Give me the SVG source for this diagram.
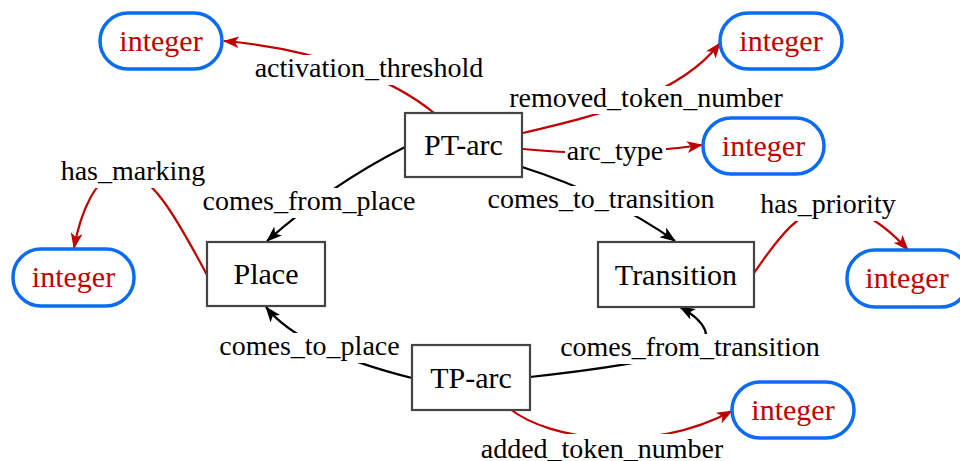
<svg xmlns="http://www.w3.org/2000/svg" width="960" height="461" viewBox="0 0 960 461">
<defs>
<marker id="ab" markerUnits="userSpaceOnUse" markerWidth="16" markerHeight="12" refX="15" refY="6" orient="auto">
<path d="M0,0 L16,6 L0,12 L4,6 z" fill="#000"/>
</marker>
<marker id="ar" markerUnits="userSpaceOnUse" markerWidth="16" markerHeight="12" refX="15" refY="6" orient="auto">
<path d="M0,0 L16,6 L0,12 L4,6 z" fill="#c00000"/>
</marker>
<style>
.box{fill:#fff;stroke:#444;stroke-width:2.2}
.pill{fill:#fff;stroke:#0a6cf5;stroke-width:3.5}
text{font-family:'Liberation Serif',Tinos,'Times New Roman','DejaVu Serif','Noto Serif',serif}
.nt{font-size:30px;text-anchor:middle;fill:#000}
.it{font-size:30px;text-anchor:middle;fill:#c00000}
.lb{font-size:28px;text-anchor:middle;fill:#000}
.eb{fill:none;stroke:#000;stroke-width:2.2}
.er{fill:none;stroke:#c00000;stroke-width:2.2}
.bg{fill:#fff}
</style>
</defs>
<rect width="960" height="461" fill="#fff"/>
<g id="connectors">
<path class="eb" d="M405,147 Q330,185 267,241" marker-end="url(#ab)"/>
<path class="eb" d="M522,167 Q610,195 675,241" marker-end="url(#ab)"/>
<path class="eb" d="M412,378 Q300,350 266,307" marker-end="url(#ab)"/>
<path class="eb" d="M530,377 C630,366 715,352 705,330 Q700,318 680,307" marker-end="url(#ab)"/>
<path class="er" d="M434,113 C400,85 330,50 224,41" marker-end="url(#ar)"/>
<path class="er" d="M523,133 C600,115 680,95 720,43" marker-end="url(#ar)"/>
<path class="er" d="M523,149 Q610,158 702,145" marker-end="url(#ar)"/>
<path class="er" d="M207,275 C175,215 150,170 120,172 C95,175 80,215 74,248" marker-end="url(#ar)"/>
<path class="er" d="M754,273 C780,235 800,210 830,205 C860,205 890,230 908,250" marker-end="url(#ar)"/>
<path class="er" d="M510,409 C550,440 650,455 732,411" marker-end="url(#ar)"/>
</g>
<g id="labels">
<rect class="bg" x="251" y="55" width="236" height="30"/>
<text class="lb" x="369" y="77" font-family="'Liberation Serif',Tinos,'Times New Roman','DejaVu Serif',serif">activation_threshold</text>
<rect class="bg" x="505" y="86" width="282" height="28"/>
<text class="lb" x="646" y="107" font-family="'Liberation Serif',Tinos,'Times New Roman','DejaVu Serif',serif">removed_token_number</text>
<rect class="bg" x="565" y="139" width="101" height="30"/>
<text class="lb" x="615" y="160" font-family="'Liberation Serif',Tinos,'Times New Roman','DejaVu Serif',serif">arc_type</text>
<rect class="bg" x="58" y="158" width="151" height="30"/>
<text class="lb" x="133" y="180" font-family="'Liberation Serif',Tinos,'Times New Roman','DejaVu Serif',serif">has_marking</text>
<rect class="bg" x="200" y="188" width="219" height="30"/>
<text class="lb" x="309" y="210" font-family="'Liberation Serif',Tinos,'Times New Roman','DejaVu Serif',serif">comes_from_place</text>
<rect class="bg" x="485" y="186" width="232" height="30"/>
<text class="lb" x="601" y="208" font-family="'Liberation Serif',Tinos,'Times New Roman','DejaVu Serif',serif">comes_to_transition</text>
<rect class="bg" x="758" y="191" width="140" height="30"/>
<text class="lb" x="828" y="213" font-family="'Liberation Serif',Tinos,'Times New Roman','DejaVu Serif',serif">has_priority</text>
<rect class="bg" x="216" y="333" width="187" height="30"/>
<text class="lb" x="309.5" y="355" font-family="'Liberation Serif',Tinos,'Times New Roman','DejaVu Serif',serif">comes_to_place</text>
<rect class="bg" x="556" y="334" width="268" height="30"/>
<text class="lb" x="690" y="356" font-family="'Liberation Serif',Tinos,'Times New Roman','DejaVu Serif',serif">comes_from_transition</text>
<rect class="bg" x="477" y="434" width="251" height="30"/>
<text class="lb" x="602" y="458" font-family="'Liberation Serif',Tinos,'Times New Roman','DejaVu Serif',serif">added_token_number</text>
</g>
<g id="pt-arc"><rect class="box" x="405" y="113" width="117" height="64"/><text class="nt" x="463.5" y="155" font-family="'Liberation Serif',Tinos,'Times New Roman','DejaVu Serif',serif">PT-arc</text></g>
<g id="place"><rect class="box" x="207" y="242" width="118" height="64"/><text class="nt" x="266" y="284" font-family="'Liberation Serif',Tinos,'Times New Roman','DejaVu Serif',serif">Place</text></g>
<g id="transition"><rect class="box" x="598" y="242" width="156" height="65"/><text class="nt" x="676" y="285" font-family="'Liberation Serif',Tinos,'Times New Roman','DejaVu Serif',serif">Transition</text></g>
<g id="tp-arc"><rect class="box" x="412" y="345" width="118" height="65"/><text class="nt" x="471" y="388" font-family="'Liberation Serif',Tinos,'Times New Roman','DejaVu Serif',serif">TP-arc</text></g>
<g id="int-activation"><rect class="pill" x="100" y="13" width="122" height="56" rx="28"/><text class="it" x="161" y="51" font-family="'Liberation Serif',Tinos,'Times New Roman','DejaVu Serif',serif">integer</text></g>
<g id="int-removed"><rect class="pill" x="720" y="13" width="122" height="56" rx="28"/><text class="it" x="781" y="51" font-family="'Liberation Serif',Tinos,'Times New Roman','DejaVu Serif',serif">integer</text></g>
<g id="int-arctype"><rect class="pill" x="703" y="118" width="121" height="56" rx="28"/><text class="it" x="763.5" y="156" font-family="'Liberation Serif',Tinos,'Times New Roman','DejaVu Serif',serif">integer</text></g>
<g id="int-marking"><rect class="pill" x="13" y="249" width="121" height="57" rx="28"/><text class="it" x="73.5" y="287" font-family="'Liberation Serif',Tinos,'Times New Roman','DejaVu Serif',serif">integer</text></g>
<g id="int-priority"><rect class="pill" x="847" y="250" width="122" height="57" rx="28"/><text class="it" x="907" y="288" font-family="'Liberation Serif',Tinos,'Times New Roman','DejaVu Serif',serif">integer</text></g>
<g id="int-added"><rect class="pill" x="732" y="382" width="122" height="56" rx="28"/><text class="it" x="793" y="420" font-family="'Liberation Serif',Tinos,'Times New Roman','DejaVu Serif',serif">integer</text></g>
</svg>
